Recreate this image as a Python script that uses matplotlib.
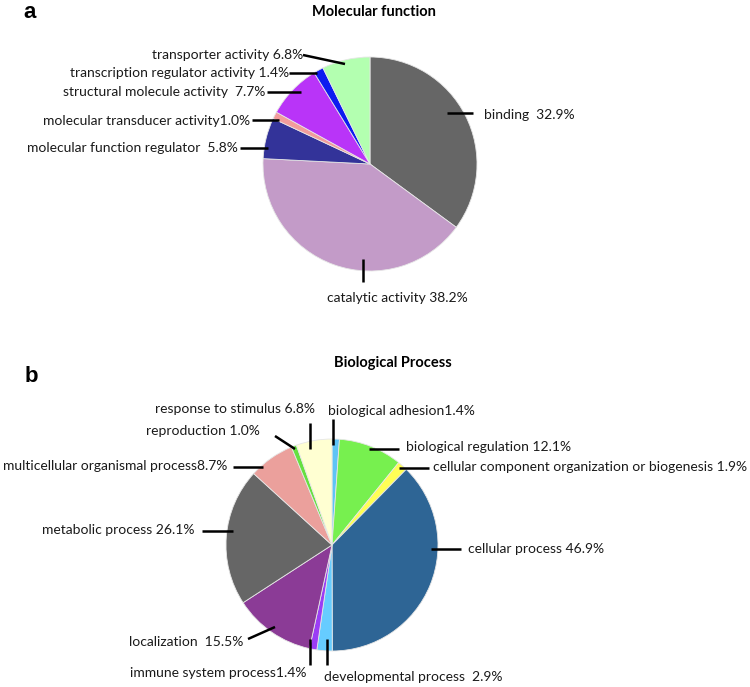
import matplotlib
matplotlib.use("Agg")
import matplotlib.pyplot as plt

# ---- data -------------------------------------------------------------
mf_labels = ["binding", "catalytic activity", "molecular function regulator",
             "molecular transducer activity", "structural molecule activity",
             "transcription regulator activity", "transporter activity"]
mf_values = [32.9, 38.2, 5.8, 1.0, 7.7, 1.4, 6.8]
mf_colors = ["#666666", "#C39BC8", "#333399", "#F29C9C", "#B934F8",
             "#0D1BF0", "#B3FFB0"]

bp_labels = ["biological adhesion", "biological regulation",
             "cellular component organization or biogenesis",
             "cellular process", "developmental process",
             "immune system process", "localization", "metabolic process",
             "multicellular organismal process", "reproduction",
             "response to stimulus"]
bp_values = [1.4, 12.1, 1.9, 46.9, 2.9, 1.4, 15.5, 26.1, 8.7, 1.0, 6.8]
bp_colors = ["#5EC4F5", "#77F04F", "#FFFF55", "#2E6595", "#66CCFF",
             "#9B3DF5", "#8B3B96", "#666666", "#EBA09C", "#66E040",
             "#FFFFD2"]

# ---- layout (pixel coords, y down) -------------------------------------
W, H = 750, 687
MF_CENTER, MF_R = (370, 164), 107
BP_CENTER, BP_R = (332, 545), 106

# gap between name and percentage, as in the original figure
mf_sep = ["  ", " ", "  ", "", "  ", " ", " "]
bp_sep = ["", " ", " ", " ", "  ", "", "  ", " ", "", " ", " "]

# text anchor (x, y, ha) and leader line (x1, y1, x2, y2) per slice
mf_text = [(484, 115, "left"), (327, 298, "left"), (238, 148, "right"),
           (250, 121, "right"), (265, 92, "right"), (289, 73, "right"),
           (303, 55, "right")]
mf_lines = [(447, 113, 473, 113), (363, 259, 363, 282), (240, 148, 268, 148),
            (252, 120, 279, 120), (267, 92, 301, 92), (289, 73, 317, 73),
            (303, 55, 345, 64)]

bp_text = [(328, 411, "left"), (406, 447, "left"), (433, 467, "left"),
           (468, 549, "left"), (324, 677, "left"), (307, 673, "right"),
           (243, 642, "right"), (195, 530, "right"), (227, 466, "right"),
           (260, 431, "right"), (315, 409, "right")]
bp_lines = [(333, 419, 333, 445), (369, 449, 399, 449), (399, 468, 429, 468),
            (431, 549, 461, 549), (327, 639, 327, 665), (310, 639, 310, 665),
            (248, 639, 275, 627), (202, 531, 233, 531), (233, 467, 263, 467),
            (275, 436, 295, 449), (310, 423, 310, 449)]

LABEL_FONT = "Lato"
LABEL_SIZE = 10


def draw_pie(ax, values, colors, labels, seps, center, radius, text_pos, lines):
    # y axis is inverted, so counterclock in data = clockwise on screen
    ax.pie(values, colors=colors, center=center, radius=radius,
           startangle=-90, counterclock=True,
           wedgeprops=dict(edgecolor="#e6e6e6", linewidth=0.6))
    for lab, sep, val, (tx, ty, ha), (x1, y1, x2, y2) in zip(
            labels, seps, values, text_pos, lines):
        ax.plot([x1, x2], [y1, y2], color="black", linewidth=1.8,
                solid_capstyle="butt")
        ax.text(tx, ty, f"{lab}{sep}{val}%", ha=ha, va="center",
                fontsize=LABEL_SIZE, family=LABEL_FONT, color="#1a1a1a")


fig = plt.figure(figsize=(7.5, 6.87), dpi=100)
ax = fig.add_axes([0, 0, 1, 1])

draw_pie(ax, mf_values, mf_colors, mf_labels, mf_sep, MF_CENTER, MF_R,
         mf_text, mf_lines)
draw_pie(ax, bp_values, bp_colors, bp_labels, bp_sep, BP_CENTER, BP_R,
         bp_text, bp_lines)

ax.text(374, 12, "Molecular function", ha="center", va="center",
        fontsize=10.5, fontweight="bold", family=LABEL_FONT)
ax.text(393, 363, "Biological Process", ha="center", va="center",
        fontsize=10.5, fontweight="bold", family=LABEL_FONT)
ax.text(30, 12, "a", ha="center", va="center", fontsize=16,
        fontweight="bold", family="Liberation Sans")
ax.text(31, 377, "b", ha="center", va="center", fontsize=16,
        fontweight="bold", family="Liberation Sans")

ax.set_xlim(0, W)
ax.set_ylim(H, 0)
ax.set_aspect("equal")
ax.axis("off")

fig.savefig("out.png", dpi=100, facecolor="white")
